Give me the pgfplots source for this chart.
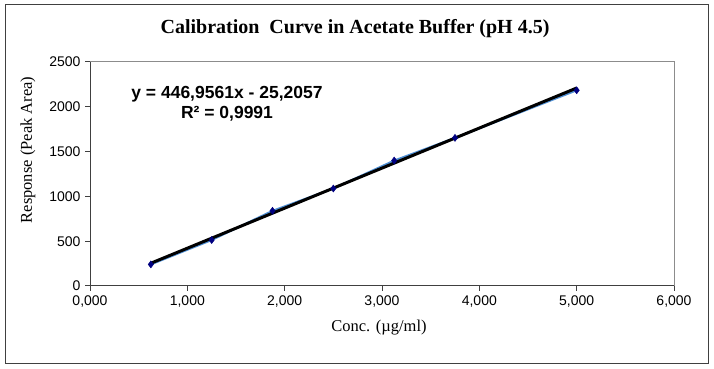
\documentclass[border=0pt]{standalone}
\usepackage{fontspec}
\setmainfont{Liberation Serif}
\newfontfamily\arial{Liberation Sans}
\usepackage{pgfplots}
\pgfplotsset{compat=1.18}
\definecolor{lineblue}{RGB}{79,143,212}
\definecolor{navy}{RGB}{0,0,128}
\definecolor{spine}{RGB}{64,64,64}
\definecolor{boxgray}{RGB}{140,140,140}
\begin{document}
\begin{tikzpicture}[x=1pt,y=1pt]
\path (0,0) rectangle (714,369);
\draw[spine,line width=1pt] (5,5) rectangle (708,364);
\begin{axis}[
  at={(90pt,83pt)}, anchor=south west,
  scale only axis, width=584pt, height=224pt,
  xmin=0, xmax=6, ymin=0, ymax=2500,
  xtick={0,1,2,3,4,5,6}, ytick={0,500,1000,1500,2000,2500},
  axis x line*=bottom, axis y line*=left,
  axis line style={spine,line width=1pt},
  tick style={spine,line width=1pt},
  tick align=outside, major tick length=5pt,
  x axis line style={-}, y axis line style={-},
  xticklabel style={font=\arial\fontsize{14}{14}\selectfont, yshift=-1pt},
  yticklabel style={font=\arial\fontsize{14}{14}\selectfont, xshift=-1pt},
  /pgf/number format/assume math mode=true,
  x tick label style={/pgf/number format/.cd, fixed, fixed zerofill, precision=3, use comma},
  y tick label style={/pgf/number format/.cd, fixed, precision=0, 1000 sep={}},
  clip=false,
]
\draw[boxgray,line width=1pt] (rel axis cs:0,1) -- (rel axis cs:1,1) -- (rel axis cs:1,0);
\addplot[lineblue, line width=2pt, mark=diamond*, mark size=3.5pt,
  mark options={navy, fill=navy, line width=0.5pt}]
  coordinates {(0.625,241) (1.25,513) (1.875,839) (2.5,1088) (3.125,1400) (3.75,1653) (5.0,2184)};
\addplot[black, line width=3pt] coordinates {(0.625,254.14) (5.0,2209.58)};
\end{axis}
\node[font=\bfseries\fontsize{20}{20}\selectfont] at (355,340) {Calibration\ \ Curve in Acetate Buffer (pH 4.5)};
\node[font=\arial\bfseries\fontsize{17.5}{17.5}\selectfont] at (227,275) {y = 446,9561x - 25,2057};
\node[font=\arial\bfseries\fontsize{17.5}{17.5}\selectfont] at (227,255.5) {R² = 0,9991};
\node[font=\fontsize{16.5}{16.5}\selectfont] at (379,41) {Conc. (µg/ml)};
\node[font=\fontsize{16.5}{16.5}\selectfont, rotate=90] at (28,219) {Response (Peak Area)};
\end{tikzpicture}
\end{document}
